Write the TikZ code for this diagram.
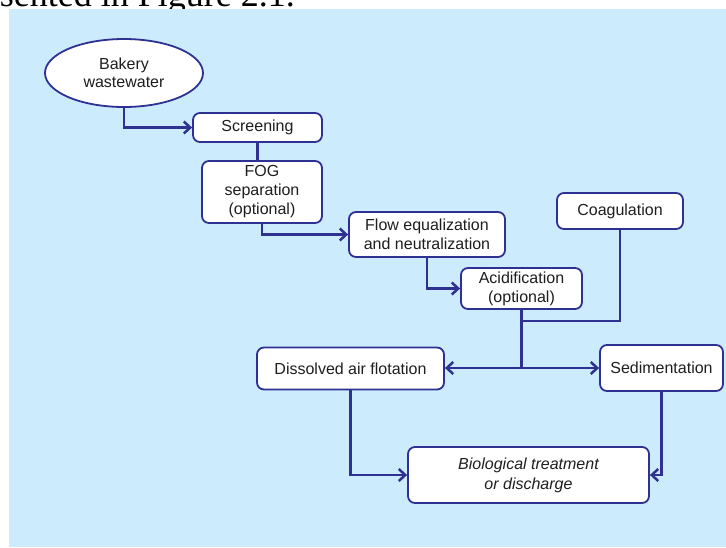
\documentclass[tikz,border=0pt]{standalone}
\usepackage{fontspec}
\setmainfont{Liberation Sans}
\newfontfamily\captionserif{Liberation Serif}
\usetikzlibrary{shapes.geometric,arrows.meta,calc}
\definecolor{panelblue}{HTML}{CCEBFC}
\definecolor{flowblue}{HTML}{2E3192}
\definecolor{inktext}{HTML}{1E1E1E}
\tikzset{
  box/.style={draw=flowblue, line width=1.8pt, fill=white, rounded corners=7pt,
    align=center, font=\fontsize{16}{19}\selectfont, text=inktext, inner sep=0pt},
  oval/.style={ellipse, draw=flowblue, line width=1.8pt, fill=white,
    align=center, font=\fontsize{16}{18}\selectfont, text=inktext, inner sep=0pt},
  link/.style={draw=flowblue, line width=2.5pt, line join=miter},
  flow/.style={link, -{Straight Barb[length=6.5pt,width=12pt,line width=2.5pt]}},
}
\begin{document}
\begin{tikzpicture}[x=1pt,y=-1pt]
\useasboundingbox (0,0) rectangle (726,547);
% running text line above the figure panel
\begin{scope}
  \clip (0,0) rectangle (726,9);
  \node[anchor=base east, inner sep=0pt, font=\captionserif\fontsize{36}{40}\selectfont]
    (caption) at (295,6) {presented in Figure 2.1.};
\end{scope}
% figure panel
\fill[panelblue] (9,9) rectangle (726,547);

% process steps
\node[oval, minimum width=158pt, minimum height=68pt] (bakery) at (124,73) {Bakery\\wastewater};
\node[box, minimum width=129pt, minimum height=29pt] (screen) at (257.5,127.5) {Screening};
\node[box, minimum width=120pt, minimum height=62pt] (fog) at (262,192) {FOG\\separation\\(optional)};
\node[box, minimum width=156pt, minimum height=45pt] (flow) at (427,234.5) {Flow equalization\\and neutralization};
\node[box, minimum width=121pt, minimum height=41pt] (acid) at (521.5,288.5) {Acidification\\(optional)};
\node[box, minimum width=126pt, minimum height=36pt] (coag) at (620,211) {Coagulation};
\node[box, minimum width=187pt, minimum height=42pt] (daf) at (350.5,368.5) {Dissolved air flotation};
\node[box, minimum width=123pt, minimum height=46pt] (sed) at (661.5,368) {Sedimentation};
\node[box, minimum width=241pt, minimum height=56pt, font=\fontsize{16}{20}\selectfont\itshape] (bio) at (528.5,475) {Biological treatment\\or discharge};

% junction points of the separation branch
\coordinate (merge) at (acid.south |- 0,321);
\coordinate (split) at (acid.south |- sed.west);

% connectors
\draw[flow] (bakery.south) |- (screen.west);
\draw[link] (screen.south) -- (screen.south |- fog.north);
\draw[flow] (fog.south) |- (flow.west);
\draw[flow] (flow.south) |- (acid.west);
\draw[link] (coag.south) |- (merge);
\draw[link] (acid.south) -- (split);
\draw[flow] (split) -- (split -| daf.east);
\draw[flow] (split) -- (sed.west);
\draw[flow] (daf.south) |- (bio.west);
\draw[flow] (sed.south) |- (bio.east);
\end{tikzpicture}
\end{document}
